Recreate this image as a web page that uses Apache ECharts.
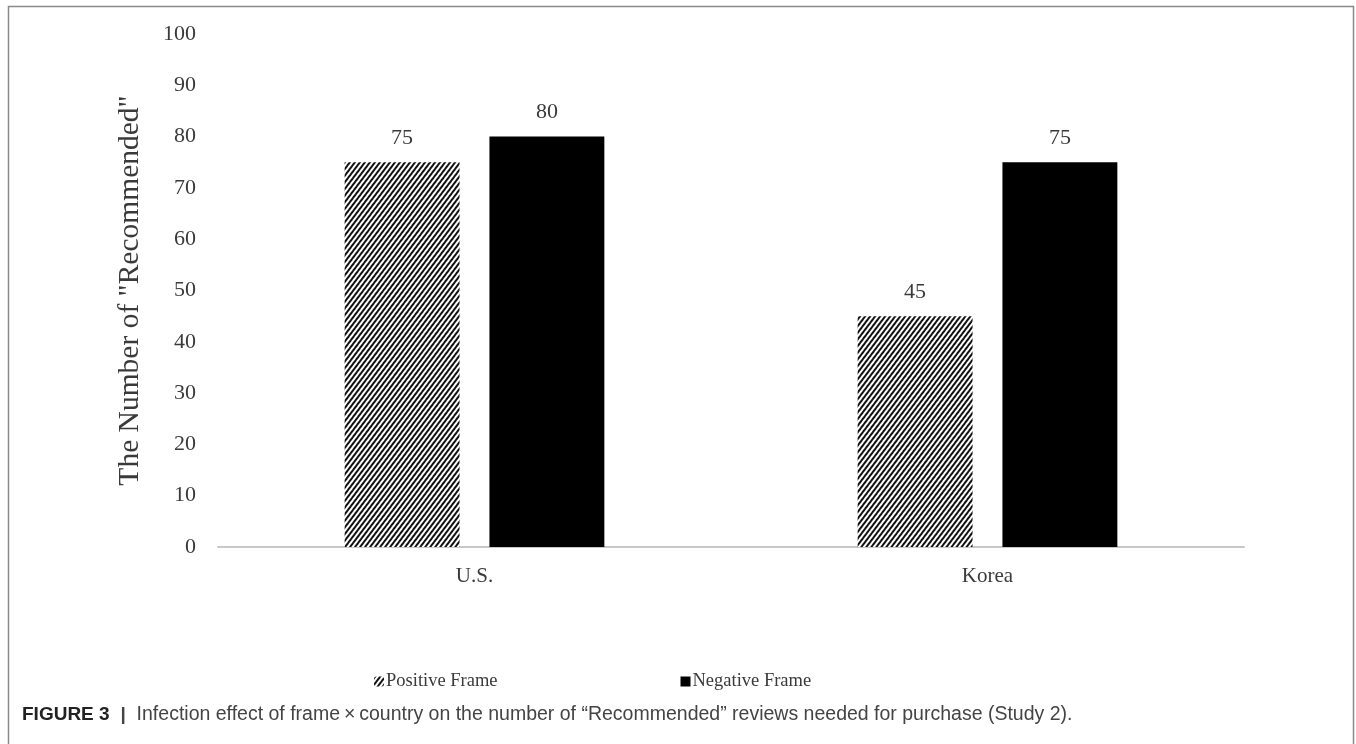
<!DOCTYPE html>
<html>
<head>
<meta charset="utf-8">
<script src="https://cdn.jsdelivr.net/npm/echarts@6/dist/echarts.min.js"></script>
<style>
  html, body { margin: 0; padding: 0; background: #fff; }
  #frameChart { width: 1356px; height: 744px; }
</style>
</head>
<body>
<div id="frameChart"></div>
<script>
// 国家类别
const countries = ['U.S.', 'Korea']
// 两种框架的 "Recommended" 数量
const positiveFrame = [75, 45]
const negativeFrame = [80, 75]
const seriesNames = ['Positive Frame', 'Negative Frame']
const yTicks = { min: 0, max: 100, interval: 10 }

const serif = '"Liberation Serif", "Times New Roman", serif'
const sans = '"Liberation Sans", Arial, sans-serif'
const textColor = '#3a3a3a'

const myChart = echarts.init(document.getElementById('frameChart'))
myChart.setOption({
  backgroundColor: '#fff',
  animation: false,
  textStyle: { fontFamily: serif },
  grid: {
    left: 218,
    right: 112,
    top: 34,
    bottom: 197
  },
  legend: {
    left: 369,
    top: 667,
    itemWidth: 10,
    itemHeight: 10,
    itemGap: 183,
    textStyle: { fontFamily: serif, fontSize: 18.5, color: textColor, padding: [0, 0, 0, -3] },
    data: [
      { name: seriesNames[0] },
      { name: seriesNames[1], icon: 'rect' }
    ]
  },
  xAxis: {
    type: 'category',
    data: countries,
    axisLine: { lineStyle: { color: '#c8c8c8', width: 2 } },
    axisTick: { show: false },
    axisLabel: { fontFamily: serif, fontSize: 21, color: textColor, margin: 19 }
  },
  yAxis: {
    type: 'value',
    min: yTicks.min,
    max: yTicks.max,
    interval: yTicks.interval,
    name: 'The Number of "Recommended"',
    nameLocation: 'middle',
    nameGap: 73,
    nameTextStyle: { fontFamily: serif, fontSize: 29.5, color: textColor },
    axisLine: { show: false },
    axisTick: { show: false },
    splitLine: { show: false },
    axisLabel: { fontFamily: serif, fontSize: 22, color: textColor, margin: 22 }
  },
  series: [
    {
      name: seriesNames[0],
      type: 'bar',
      data: positiveFrame,
      barWidth: '22.4%',
      barGap: '26%',
      itemStyle: {
        color: '#fff',
        decal: {
          symbol: 'rect',
          symbolSize: 1,
          color: '#111',
          dashArrayX: [1, 0],
          dashArrayY: [2, 2],
          rotation: -Math.PI / 3.4
        }
      },
      label: {
        show: true,
        position: 'top',
        distance: 13,
        fontFamily: serif,
        fontSize: 22,
        color: textColor
      }
    },
    {
      name: seriesNames[1],
      type: 'bar',
      data: negativeFrame,
      barWidth: '22.4%',
      itemStyle: { color: '#000' },
      label: {
        show: true,
        position: 'top',
        distance: 13,
        fontFamily: serif,
        fontSize: 22,
        color: textColor
      }
    }
  ],
  graphic: [
    {
      type: 'rect',
      shape: { x: 8.5, y: 6.5, width: 1345, height: 760 },
      style: { fill: 'none', stroke: '#8a8a8a', lineWidth: 1.5 },
      silent: true
    },
    {
      type: 'text',
      left: 22,
      top: 705,
      style: {
        text: '{b|FIGURE 3}  {s||}  Infection effect of frame\u2009\u00d7\u2009country on the number of \u201cRecommended\u201d reviews needed for purchase (Study 2).',
        font: '19.5px ' + sans,
        fill: '#444',
        rich: {
          b: { fontFamily: sans, fontSize: 19, fontWeight: 'bold', fill: '#222' },
          s: { fontFamily: sans, fontSize: 19, fontWeight: 'bold', fill: '#444' }
        }
      }
    }
  ]
})
</script>
</body>
</html>
